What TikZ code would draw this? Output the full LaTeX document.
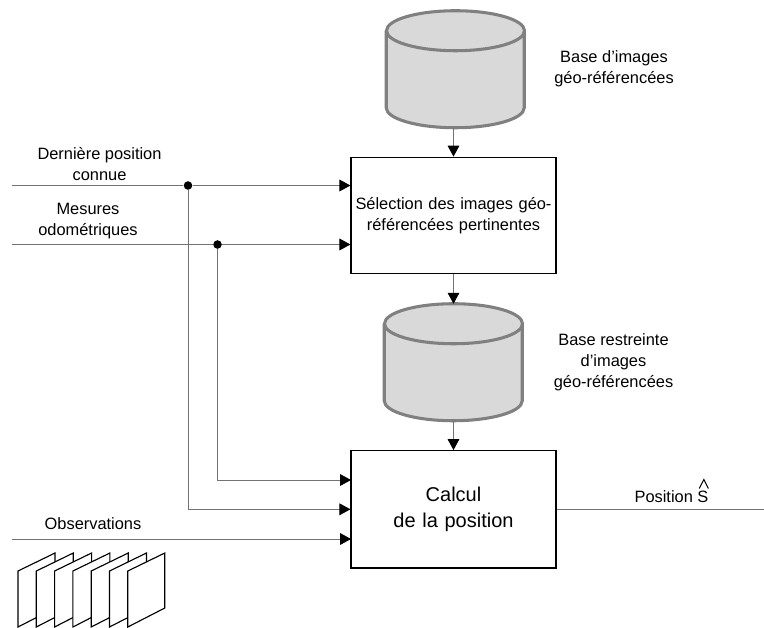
\documentclass[tikz,border=0pt]{standalone}
\usepackage{fontspec}
\setmainfont{Liberation Sans}
\usepackage{tikz}
\usetikzlibrary{arrows.meta,positioning,calc}
\tikzstyle{label} = [align=center, font=\fontsize{12.3}{15.6}\selectfont, inner sep=0pt]
\tikzset{edge/.style = {
    draw=black!55,
    line width=0.55pt,
    -{Triangle[black, length=8.2pt, width=8.8pt]},
  }
}

\begin{document}
\begin{tikzpicture}[x=0.75pt, y=-0.75pt,
          database/.pic={%
            \node (-body) [rectangle, minimum width=103.5pt, minimum height=87.75pt, inner sep=0pt] {};
            \draw [black!50, fill=black!15, line width=2.3pt] (-body.north west) ++(0,20) -- ++(0,77) arc [start angle=180, end angle=0, x radius=69, y radius=20] -- ++(0,-77) ;
            \draw [black!50, fill=black!15, line width=2.3pt] (-body.north) ++(0,20) ellipse [x radius=69, y radius=20];
          }
          ]
          \useasboundingbox (0,0) rectangle (764,628);
          % vertices
          \tikzstyle{block} = [rectangle, draw, line width=0.9pt, minimum width=153.75pt, text width=150pt, text centered, inner sep=0pt]
          \tikzstyle{junction} = [circle, fill=black, minimum size=6.4pt, inner sep=0pt]
          \tikzstyle{line} = [draw=black!55, line width=0.55pt]

          \pic (base) at (455.5,69.5) {database};
          \node[block, minimum height=87.5pt, font=\fontsize{12.3}{15.6}\selectfont] (select) at (453.5,215.5) {Sélection des images géo-\\référencées pertinentes};
          \pic (restricted) at (453.5,362.5) {database};
          \node[block, minimum height=88pt, font=\fontsize{15}{19.3}\selectfont] (calc) at (453.5,509.3) {Calcul\\de la position};

          \node[label] (lbase) at (614,68.5) {Base d'images\\géo-référencées};
          \node[label] (lrestricted) at (613.5,362.5) {Base restreinte\\d'images\\géo-référencées};
          \node[label] (llast) at (99.5,164) {Dernière position\\connue};
          \node[label] (lodo) at (88,221) {Mesures\\odométriques};
          \node[label] (lobs) at (93,523.5) {Observations};
          \node[label] (lpos) at (671.5,497) {Position S};

          \coordinate (in1) at (12,185.5);
          \coordinate (in2) at (12,244.5);
          \coordinate (in3) at (12,539);
          \coordinate (out) at (764,509.3);
          \node[junction] (dot1) at (188,185.5) {};
          \node[junction] (dot2) at (217.5,244.5) {};
          \coordinate (calc1) at (351,480);
          \coordinate (calc2) at (351,539);

          % observations
          \foreach \i in {0,...,6} {
            \draw[fill=white, line width=0.85pt] ($(18,571)+(18.3*\i,0)$) -- ++(37,-18) -- ++(0,55) -- ++(-37,19) -- cycle;
          }

          % hat on the S
          \draw[line width=0.75pt] ($(lpos.east)+(-9.5,-8.5)$) -- ++(4.7,-9) -- ++(4.5,9);

          % edges
          \draw[line] (in1) -- (dot1);
          \draw[edge] (dot1) -- (in1 -| select.west);
          \draw[line] (in2) -- (dot2);
          \draw[edge] (dot2) -- (in2 -| select.west);
          \draw[edge] (dot2) |- (calc1);
          \draw[edge] (dot1) |- (calc.west);
          \draw[edge] (in3) -- (calc2);
          \draw[line] (calc.east) -- (out);
          \draw[edge] (base-body.south -| select.north) -- (select.north);
          \draw[edge] (select.south) -- (restricted-body.north -| select.south);
          \draw[edge] (restricted-body.south -| calc.north) -- (calc.north);
        \end{tikzpicture}
\end{document}
